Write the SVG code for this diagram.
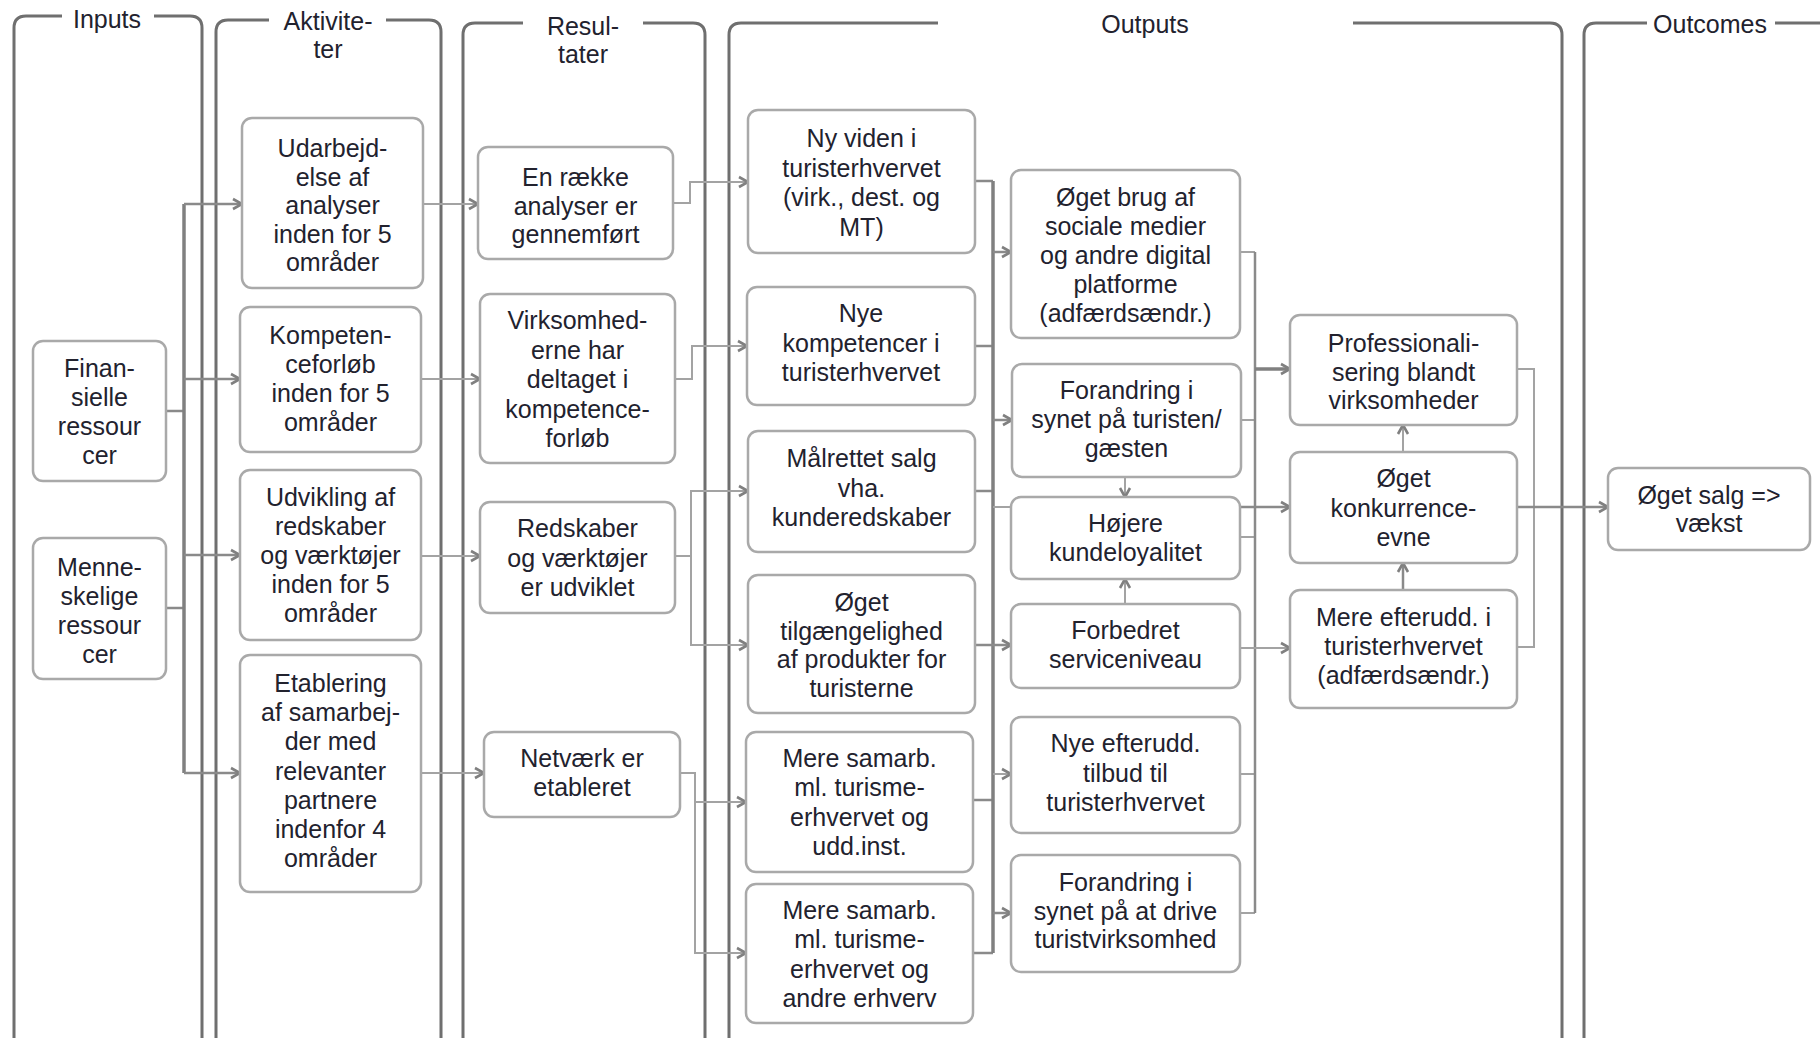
<svg xmlns="http://www.w3.org/2000/svg" width="1820" height="1038" viewBox="0 0 1820 1038">
<style>
text{font-family:"Liberation Sans",Arial,sans-serif;font-size:25px;fill:#22222e;text-anchor:middle}
.frame{fill:none;stroke:#6f6f6f;stroke-width:3}
.node rect{fill:#fff;stroke:#a9a9a9;stroke-width:2.5}
.c{fill:none;stroke:#8a8a8a;stroke-width:2.5}
.ct{fill:none;stroke:#808080;stroke-width:3.5}
.cl{fill:none;stroke:#a3a3a3;stroke-width:2}
.a{marker-end:url(#arr)}
</style>
<defs>
<marker id="arr" viewBox="0 0 11 12" markerWidth="11" markerHeight="12" refX="10" refY="6" orient="auto" markerUnits="userSpaceOnUse" overflow="visible">
<path d="M1,1 L10,6 L1,11" fill="none" stroke="#808080" stroke-width="2.6"/>
</marker>
</defs>
<rect width="1820" height="1038" fill="#fff"/>

<g id="frames">
<g id="frame-inputs">
<path class="frame" d="M62,16 H26 Q14,16 14,28 V1050 M154,16 H190 Q202,16 202,28 V1050"/>
<text x="107" y="28">Inputs</text>
</g>
<g id="frame-aktiviteter">
<path class="frame" d="M269,20 H228 Q216,20 216,32 V1050 M386,20 H429 Q441,20 441,32 V1050"/>
<text x="328" y="30">Aktivite-</text>
<text x="328" y="58">ter</text>
</g>
<g id="frame-resultater">
<path class="frame" d="M523,23 H475 Q463,23 463,35 V1050 M643,23 H693 Q705,23 705,35 V1050"/>
<text x="583" y="35">Resul-</text>
<text x="583" y="63">tater</text>
</g>
<g id="frame-outputs">
<path class="frame" d="M938,23 H741 Q729,23 729,35 V1050 M1353,23 H1550 Q1562,23 1562,35 V1050"/>
<text x="1145" y="33">Outputs</text>
</g>
<g id="frame-outcomes">
<path class="frame" d="M1647,23 H1596 Q1584,23 1584,35 V1050 M1775,23 H1830"/>
<text x="1710" y="33">Outcomes</text>
</g>
</g>

<g id="connectors">
<!-- inputs to activities -->
<path class="c" d="M166,411 H184 M166,608 H184"/>
<path class="ct" d="M184,204 V773"/>
<path class="c a" d="M184,204 H242"/>
<path class="c a" d="M184,379 H240"/>
<path class="c a" d="M184,555 H240"/>
<path class="c a" d="M184,773 H240"/>
<!-- activities to results -->
<path class="cl a" d="M423,204 H478"/>
<path class="cl a" d="M421,379 H480"/>
<path class="cl a" d="M421,556 H480"/>
<path class="cl a" d="M421,773 H484"/>
<!-- results to outputs -->
<path class="cl a" d="M673,203 H690 V182 H748"/>
<path class="cl a" d="M675,379 H692 V346 H747"/>
<path class="cl a" d="M675,556 H691 V491 H748"/>
<path class="cl a" d="M691,556 V645 H748"/>
<path class="cl a" d="M680,773 H695 V802 H746"/>
<path class="cl a" d="M695,802 V953 H746"/>
<!-- outputs col1 to col2 -->
<path class="c" d="M975,181 H993 M975,346 H993 M975,491 H993 M973,800 H993 M973,953 H993"/>
<path class="ct" d="M993,181 V953"/>
<path class="c a" d="M993,252 H1011"/>
<path class="c a" d="M993,420 H1012"/>
<path class="cl" d="M993,507 H1011"/>
<path class="c a" d="M975,645 H1011"/>
<path class="cl a" d="M993,774 H1011"/>
<path class="c a" d="M993,913 H1011"/>
<!-- outputs col2 internal -->
<path class="cl a" d="M1125,477 V497"/>
<path class="cl a" d="M1125,604 V579"/>
<!-- outputs col2 to col3 -->
<path class="cl" d="M1240,252 H1255 M1241,420 H1255 M1240,537 H1255 M1240,774 H1255 M1240,913 H1255"/>
<path class="c" d="M1255,252 V913"/>
<path class="ct a" d="M1255,369 H1290"/>
<path class="c a" d="M1240,507 H1290"/>
<path class="cl a" d="M1240,648 H1290"/>
<!-- col3 internal -->
<path class="cl a" d="M1403,452 V425"/>
<path class="c a" d="M1403,590 V563"/>
<!-- to outcomes -->
<path class="cl" d="M1517,369 H1534 V647 H1517"/>
<path class="c a" d="M1517,507 H1608"/>
</g>

<g id="n-finansielle" class="node"><rect x="33" y="341" width="133" height="140" rx="10"/>
<text x="99.5" y="377">Finan-<tspan x="99.5" dy="29">sielle</tspan><tspan x="99.5" dy="29">ressour</tspan><tspan x="99.5" dy="29">cer</tspan></text></g>
<g id="n-menneskelige" class="node"><rect x="33" y="538" width="133" height="141" rx="10"/>
<text x="99.5" y="576">Menne-<tspan x="99.5" dy="29">skelige</tspan><tspan x="99.5" dy="29">ressour</tspan><tspan x="99.5" dy="29">cer</tspan></text></g>

<g id="n-udarbejdelse" class="node"><rect x="242" y="118" width="181" height="170" rx="10"/>
<text x="332.5" y="157">Udarbejd-<tspan x="332.5" dy="28.5">else af</tspan><tspan x="332.5" dy="28.5">analyser</tspan><tspan x="332.5" dy="28.5">inden for 5</tspan><tspan x="332.5" dy="28.5">områder</tspan></text></g>
<g id="n-kompetenceforloeb" class="node"><rect x="240" y="307" width="181" height="145" rx="10"/>
<text x="330.5" y="344">Kompeten-<tspan x="330.5" dy="29">ceforløb</tspan><tspan x="330.5" dy="29">inden for 5</tspan><tspan x="330.5" dy="29">områder</tspan></text></g>
<g id="n-udvikling" class="node"><rect x="240" y="470" width="181" height="170" rx="10"/>
<text x="330.5" y="506">Udvikling af<tspan x="330.5" dy="29">redskaber</tspan><tspan x="330.5" dy="29">og værktøjer</tspan><tspan x="330.5" dy="29">inden for 5</tspan><tspan x="330.5" dy="29">områder</tspan></text></g>
<g id="n-etablering" class="node"><rect x="240" y="655" width="181" height="237" rx="10"/>
<text x="330.5" y="692">Etablering<tspan x="330.5" dy="29.2">af samarbej-</tspan><tspan x="330.5" dy="29.2">der med</tspan><tspan x="330.5" dy="29.2">relevanter</tspan><tspan x="330.5" dy="29.2">partnere</tspan><tspan x="330.5" dy="29.2">indenfor 4</tspan><tspan x="330.5" dy="29.2">områder</tspan></text></g>

<g id="n-analyser" class="node"><rect x="478" y="147" width="195" height="112" rx="10"/>
<text x="575.5" y="186">En række<tspan x="575.5" dy="28.5">analyser er</tspan><tspan x="575.5" dy="28.5">gennemført</tspan></text></g>
<g id="n-virksomhederne" class="node"><rect x="480" y="294" width="195" height="169" rx="10"/>
<text x="577.5" y="329">Virksomhed-<tspan x="577.5" dy="29.5">erne har</tspan><tspan x="577.5" dy="29.5">deltaget i</tspan><tspan x="577.5" dy="29.5">kompetence-</tspan><tspan x="577.5" dy="29.5">forløb</tspan></text></g>
<g id="n-redskaber" class="node"><rect x="480" y="502" width="195" height="111" rx="10"/>
<text x="577.5" y="537">Redskaber<tspan x="577.5" dy="29.5">og værktøjer</tspan><tspan x="577.5" dy="29.5">er udviklet</tspan></text></g>
<g id="n-netvaerk" class="node"><rect x="484" y="732" width="196" height="85" rx="10"/>
<text x="582" y="767">Netværk er<tspan x="582" dy="29">etableret</tspan></text></g>

<g id="n-nyviden" class="node"><rect x="748" y="110" width="227" height="143" rx="10"/>
<text x="861.5" y="147">Ny viden i<tspan x="861.5" dy="29.7">turisterhvervet</tspan><tspan x="861.5" dy="29.7">(virk., dest. og</tspan><tspan x="861.5" dy="29.7">MT)</tspan></text></g>
<g id="n-nyekompetencer" class="node"><rect x="747" y="287" width="228" height="118" rx="10"/>
<text x="861" y="322">Nye<tspan x="861" dy="29.5">kompetencer i</tspan><tspan x="861" dy="29.5">turisterhvervet</tspan></text></g>
<g id="n-maalrettet" class="node"><rect x="748" y="431" width="227" height="121" rx="10"/>
<text x="861.5" y="467">Målrettet salg<tspan x="861.5" dy="29.5">vha.</tspan><tspan x="861.5" dy="29.5">kunderedskaber</tspan></text></g>
<g id="n-tilgaengelighed" class="node"><rect x="748" y="575" width="227" height="138" rx="10"/>
<text x="861.5" y="611">Øget<tspan x="861.5" dy="28.7">tilgængelighed</tspan><tspan x="861.5" dy="28.7">af produkter for</tspan><tspan x="861.5" dy="28.7">turisterne</tspan></text></g>
<g id="n-samarb-udd" class="node"><rect x="746" y="732" width="227" height="140" rx="10"/>
<text x="859.5" y="767">Mere samarb.<tspan x="859.5" dy="29.3">ml. turisme-</tspan><tspan x="859.5" dy="29.3">erhvervet og</tspan><tspan x="859.5" dy="29.3">udd.inst.</tspan></text></g>
<g id="n-samarb-andre" class="node"><rect x="746" y="884" width="227" height="139" rx="10"/>
<text x="859.5" y="919">Mere samarb.<tspan x="859.5" dy="29.3">ml. turisme-</tspan><tspan x="859.5" dy="29.3">erhvervet og</tspan><tspan x="859.5" dy="29.3">andre erhverv</tspan></text></g>

<g id="n-socialemedier" class="node"><rect x="1011" y="170" width="229" height="168" rx="10"/>
<text x="1125.5" y="206">Øget brug af<tspan x="1125.5" dy="29">sociale medier</tspan><tspan x="1125.5" dy="29">og andre digital</tspan><tspan x="1125.5" dy="29">platforme</tspan><tspan x="1125.5" dy="29">(adfærdsændr.)</tspan></text></g>
<g id="n-synturisten" class="node"><rect x="1012" y="364" width="229" height="113" rx="10"/>
<text x="1126.5" y="399">Forandring i<tspan x="1126.5" dy="29">synet på turisten/</tspan><tspan x="1126.5" dy="29">gæsten</tspan></text></g>
<g id="n-kundeloyalitet" class="node"><rect x="1011" y="497" width="229" height="82" rx="10"/>
<text x="1125.5" y="532">Højere<tspan x="1125.5" dy="29">kundeloyalitet</tspan></text></g>
<g id="n-serviceniveau" class="node"><rect x="1011" y="604" width="229" height="84" rx="10"/>
<text x="1125.5" y="639">Forbedret<tspan x="1125.5" dy="29">serviceniveau</tspan></text></g>
<g id="n-efteruddtilbud" class="node"><rect x="1011" y="717" width="229" height="116" rx="10"/>
<text x="1125.5" y="752">Nye efterudd.<tspan x="1125.5" dy="29.5">tilbud til</tspan><tspan x="1125.5" dy="29.5">turisterhvervet</tspan></text></g>
<g id="n-syndrive" class="node"><rect x="1011" y="855" width="229" height="117" rx="10"/>
<text x="1125.5" y="891">Forandring i<tspan x="1125.5" dy="28.5">synet på at drive</tspan><tspan x="1125.5" dy="28.5">turistvirksomhed</tspan></text></g>

<g id="n-professionalisering" class="node"><rect x="1290" y="315" width="227" height="110" rx="10"/>
<text x="1403.5" y="352">Professionali-<tspan x="1403.5" dy="28.5">sering blandt</tspan><tspan x="1403.5" dy="28.5">virksomheder</tspan></text></g>
<g id="n-konkurrenceevne" class="node"><rect x="1290" y="452" width="227" height="111" rx="10"/>
<text x="1403.5" y="487">Øget<tspan x="1403.5" dy="29.5">konkurrence-</tspan><tspan x="1403.5" dy="29.5">evne</tspan></text></g>
<g id="n-mereefterudd" class="node"><rect x="1290" y="590" width="227" height="118" rx="10"/>
<text x="1403.5" y="626">Mere efterudd. i<tspan x="1403.5" dy="29">turisterhvervet</tspan><tspan x="1403.5" dy="29">(adfærdsændr.)</tspan></text></g>

<g id="n-salgvaekst" class="node"><rect x="1608" y="468" width="202" height="82" rx="10"/>
<text x="1709" y="504">Øget salg =&gt;<tspan x="1709" dy="28">vækst</tspan></text></g>
</svg>
